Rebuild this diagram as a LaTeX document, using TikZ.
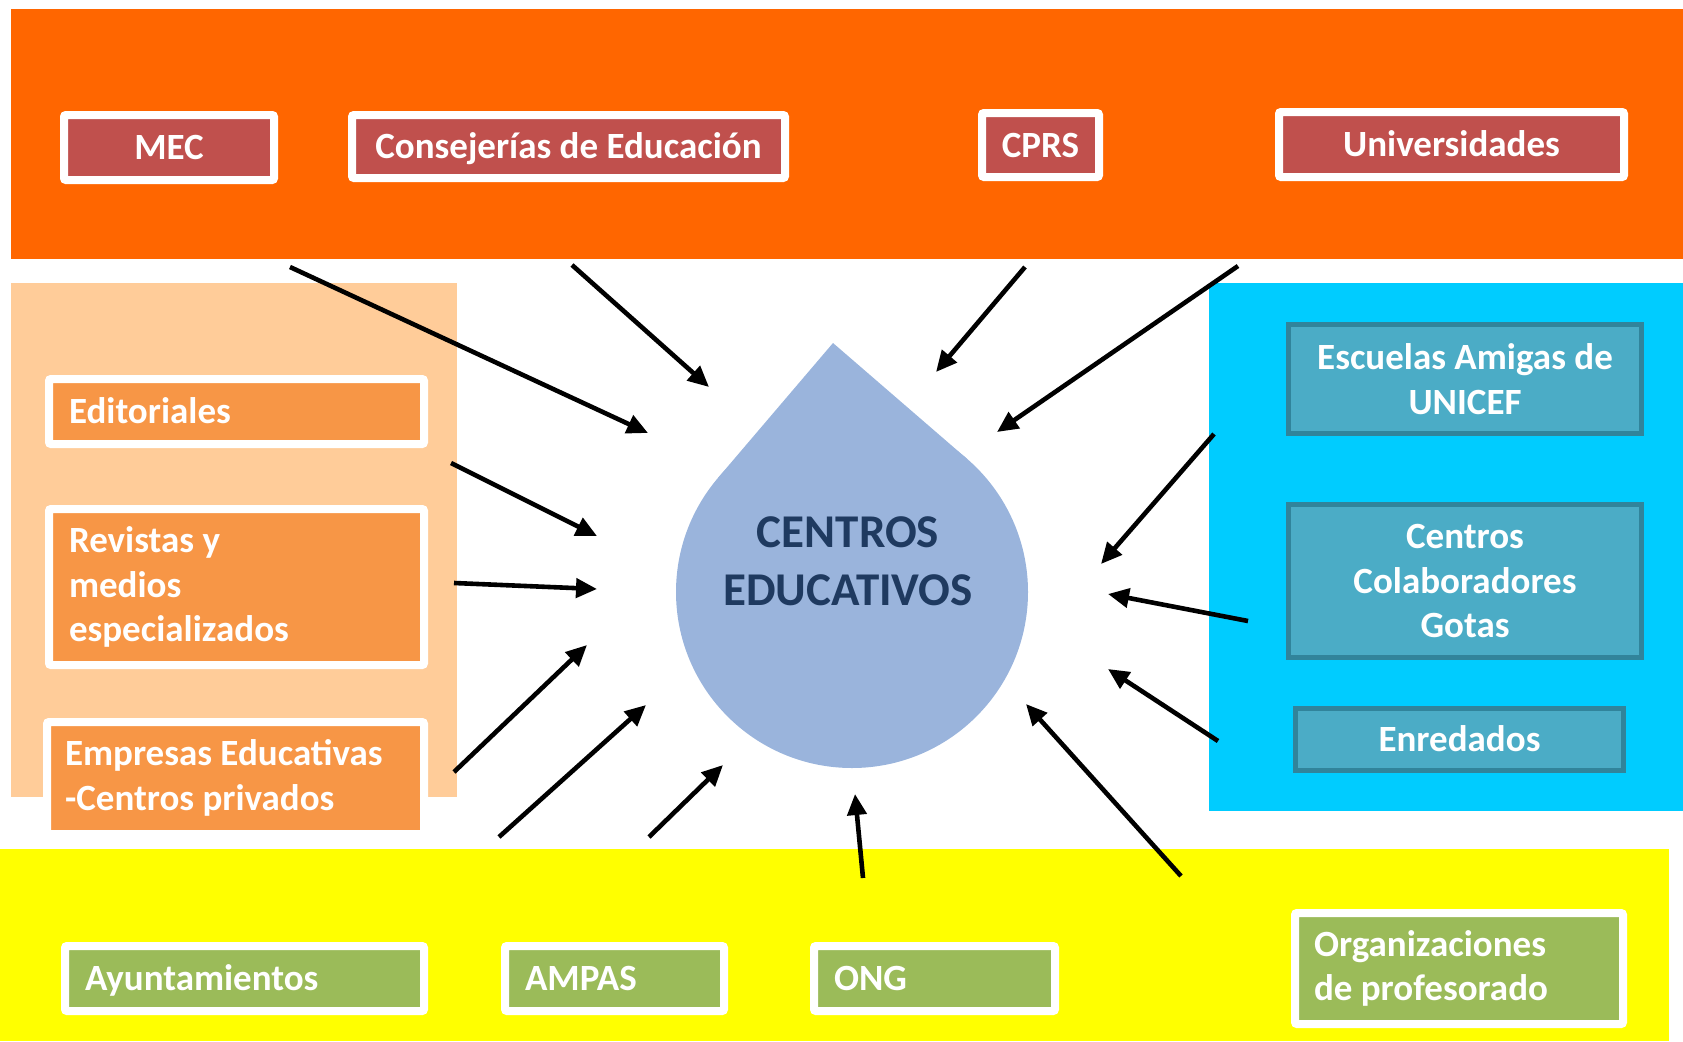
\documentclass[tikz,border=0pt]{standalone}
\usepackage{fontspec}
\setmainfont{Carlito}
\usetikzlibrary{arrows.meta}
\definecolor{bandorange}{HTML}{FF6600}
\definecolor{peach}{HTML}{FFCC99}
\definecolor{cyanbg}{HTML}{00CCFF}
\definecolor{yellowbg}{HTML}{FFFF00}
\definecolor{redbox}{HTML}{C0504D}
\definecolor{orangebox}{HTML}{F79646}
\definecolor{tealbox}{HTML}{4BACC6}
\definecolor{tealedge}{HTML}{31849B}
\definecolor{greenbox}{HTML}{9BBB59}
\definecolor{dropblue}{HTML}{9AB4DC}
\definecolor{droptext}{HTML}{1F3A60}
\begin{document}
\begin{tikzpicture}[x=1pt,y=-1pt,
  lbl/.style={font=\fontsize{37}{44.5}\selectfont\bfseries, text=white},
  oneline/.style={text height=24pt, text depth=0pt},
  whitebox/.style={lbl, draw=white, line width=8pt, rounded corners=2pt, inner sep=0pt},
  redb/.style={whitebox, fill=redbox, align=center, oneline},
  orangeb/.style={whitebox, fill=orangebox, align=flush left},
  greenb/.style={whitebox, fill=greenbox, align=flush left},
  tealb/.style={lbl, draw=tealedge, line width=5pt, fill=tealbox, align=center, inner sep=0pt},
  arr/.style={line width=4.6pt, -{Triangle[length=21pt,width=19pt]}}
]
\useasboundingbox (0,0) rectangle (1683,1041);
% background panels
\fill[bandorange] (11,9) rectangle (1683,259);
\fill[peach] (11,283) rectangle (457,797);
\fill[cyanbg] (1209,283) rectangle (1683,811);
\fill[yellowbg] (0,849) rectangle (1669,1041);

% drop
\node[circle, fill=dropblue, minimum size=352pt, inner sep=0pt] (drop) at (852,592) {};
\coordinate (tip) at (833,343);
\fill[dropblue] (tip) -- (718.1,477.8) -- (852,592) -- (967.1,458.9) -- cycle;
\node[font=\fontsize{47}{58}\selectfont\bfseries, text=droptext, align=center] (centros) at (848,561) {CENTROS\\EDUCATIVOS};

% top boxes
\node[redb, minimum width=210pt, minimum height=65pt] (mec) at (169,147.5) {MEC};
\node[redb, minimum width=433pt, minimum height=63pt] (cons) at (568.5,146.5) {Consejerías de Educación};
\node[redb, minimum width=117pt, minimum height=64pt] (cprs) at (1040.5,145) {CPRS};
\node[redb, minimum width=345pt, minimum height=65pt] (univ) at (1451.5,144.5) {Universidades};

% left boxes
\node[orangeb, oneline, text width=335pt, inner xsep=20pt, minimum height=65pt] (edit) at (236.5,411.5) {Editoriales};
\node[orangeb, text width=335pt, inner xsep=20pt, minimum height=156pt] (rev) at (236.5,587) {Revistas y\\medios\\especializados};
\node[orangeb, text width=341pt, inner xsep=18pt, minimum height=112pt] (emp) at (235.5,778) {Empresas Educativas\\-Centros privados};

% right boxes
\node[tealb, minimum width=353pt, minimum height=109pt] (esc) at (1465,379) {Escuelas Amigas de\\UNICEF};
\node[tealb, minimum width=353pt, minimum height=153pt] (gotas) at (1465,581) {Centros\\Colaboradores\\Gotas};
\node[tealb, oneline, minimum width=328pt, minimum height=62pt] (enr) at (1459.5,739.5) {Enredados};

% bottom boxes
\node[greenb, oneline, text width=319pt, inner xsep=20pt, minimum height=65pt] (ayu) at (244.5,978.5) {Ayuntamientos};
\node[greenb, oneline, text width=179pt, inner xsep=20pt, minimum height=65pt] (ampas) at (614.5,978.5) {AMPAS};
\node[greenb, oneline, text width=201pt, inner xsep=20pt, minimum height=65pt] (ong) at (934.5,978.5) {ONG};
\node[greenb, text width=290pt, inner xsep=19pt, minimum height=111pt] (org) at (1459,968.5) {Organizaciones\\de profesorado};

% arrow end points
\coordinate (s1) at (290,267);  \coordinate (e1) at (648,433);
\coordinate (s2) at (572,265);  \coordinate (e2) at (709,387);
\coordinate (s3) at (1025,267); \coordinate (e3) at (936,372);
\coordinate (s4) at (1238,266); \coordinate (e4) at (997,432);
\coordinate (s5) at (451,463);  \coordinate (e5) at (597,536);
\coordinate (s6) at (454,583);  \coordinate (e6) at (597,589);
\coordinate (s7) at (454,772);  \coordinate (e7) at (587,645);
\coordinate (s8) at (499,837);  \coordinate (e8) at (646,705);
\coordinate (s9) at (649,837);  \coordinate (e9) at (723,765);
\coordinate (s10) at (863,878); \coordinate (e10) at (855,794);
\coordinate (s11) at (1181,876); \coordinate (e11) at (1026,704);
\coordinate (s12) at (1218,741); \coordinate (e12) at (1108,669);
\coordinate (s13) at (1248,621); \coordinate (e13) at (1108,594);
\coordinate (s14) at (1214,434); \coordinate (e14) at (1101,564);
\foreach \i in {1,...,14} { \draw[arr] (s\i) -- (e\i); }
\end{tikzpicture}
\end{document}
